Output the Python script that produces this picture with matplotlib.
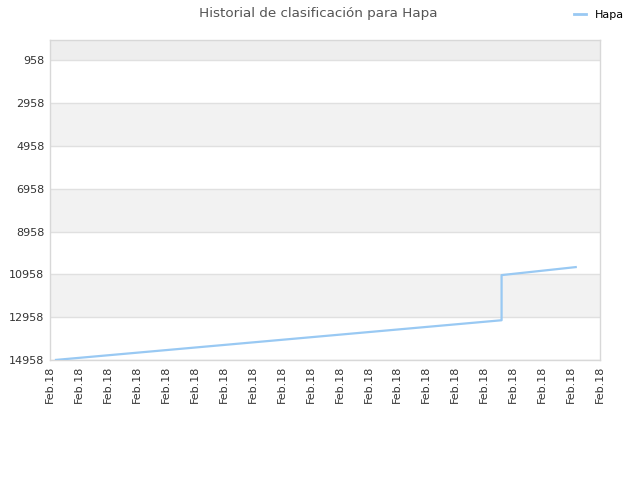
import matplotlib
matplotlib.use("Agg")
import matplotlib.pyplot as plt
from matplotlib.lines import Line2D

# data
x_pos = [0.17, 15.6, 15.6, 18.2]
ranks = [14958, 13100, 10990, 10610]
ytick_vals = [958, 2958, 4958, 6958, 8958, 10958, 12958, 14958]
xtick_labels = ["Feb.18"] * 20
title = "Historial de clasificación para Hapa"
series_name = "Hapa"

fig = plt.figure(figsize=(6.4, 4.8), dpi=100)
ax = fig.add_axes([50/640, 1-360/480, 550/640, 320/480])

ymin, ymax = 0, 14958
ax.set_ylim(ymax, ymin)
ax.set_xlim(0, len(xtick_labels) - 1)

# alternating bands
bounds = [ymin] + ytick_vals
for i in range(len(bounds) - 1):
    lo, hi = bounds[i], bounds[i + 1]
    if i % 2 == 0:
        color = "#eeeeee" if i == 0 else "#f2f2f2"
        ax.axhspan(lo, hi, color=color, zorder=0, lw=0)
for v in ytick_vals:
    ax.axhline(v, color="#e0e0e0", lw=1, zorder=1)

ax.plot(x_pos, ranks, color="#99c9f3", lw=1.6, zorder=3, solid_capstyle="butt")

ax.set_yticks(ytick_vals)
ax.set_yticklabels([str(v) for v in ytick_vals], fontsize=8, color="#333333")
ax.set_xticks(range(len(xtick_labels)))
ax.set_xticklabels(xtick_labels, rotation=90, fontsize=8, color="#333333")
ax.tick_params(axis="both", length=0, pad=4)
for s in ax.spines.values():
    s.set_color("#d8d8d8")
    s.set_linewidth(1)

fig.text(0.497, 1 - 13/480, title, ha="center", va="center", fontsize=9.7, color="#555555")

fig.legend(handles=[Line2D([0], [0], color="#99c9f3", lw=2)], labels=[series_name],
           loc="center", bbox_to_anchor=(599/640, 1 - 15/480), frameon=False,
           fontsize=8, handlelength=1.0, handletextpad=0.8)

fig.savefig("out.png", dpi=100)
